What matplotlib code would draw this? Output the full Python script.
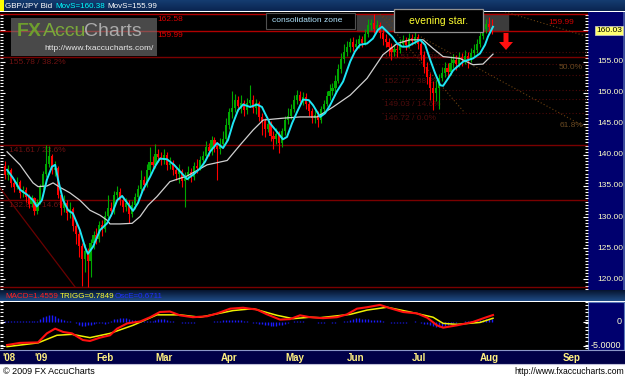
import numpy as np
import matplotlib
matplotlib.use("Agg")
import matplotlib.pyplot as plt
from matplotlib.patches import Rectangle, FancyArrow
from matplotlib.colors import LinearSegmentedColormap

plt.rcParams['font.family'] = ['Liberation Sans', 'DejaVu Sans']

# ---------------- data ----------------
first_open = 138.2
closes = [136.8,137.6,135.4,134.9,135.6,133.8,134.3,133.2,132.1,133.0,
          130.9,132.5,134.8,136.9,138.6,139.8,137.5,137.9,133.6,131.4,
          132.2,130.6,131.3,128.6,127.3,125.4,123.2,124.5,123.0,125.8,
          127.1,126.4,128.7,128.1,130.2,131.5,130.9,133.6,134.1,132.8,
          131.6,132.2,130.5,131.9,133.2,134.5,135.9,135.2,137.6,138.9,
          138.4,140.2,139.6,139.1,140.0,138.3,138.7,137.6,136.9,137.4,
          135.8,136.6,137.2,136.5,138.2,137.9,139.1,139.8,141.3,140.6,
          142.4,141.5,140.9,141.8,142.6,144.8,146.9,147.6,148.9,147.8,
          148.3,147.2,148.4,148.9,147.6,148.3,146.1,145.4,144.2,145.0,
          143.1,142.5,143.4,141.9,143.8,145.6,146.3,147.4,148.8,149.6,
          148.7,149.3,148.1,147.0,145.9,146.4,145.6,147.3,148.2,149.5,
          150.3,150.8,151.9,153.8,155.4,156.6,157.3,158.1,157.4,157.9,
          158.6,158.0,159.4,160.8,161.2,160.3,160.9,159.6,158.7,158.2,
          157.3,156.5,157.1,156.8,157.9,158.4,157.6,158.8,158.3,159.0,
          157.9,156.1,154.2,152.6,150.8,149.9,150.7,152.4,153.1,153.9,
          153.4,154.7,155.3,154.6,155.8,155.2,155.9,155.4,156.3,156.9,
          157.8,159.1,160.2,161.0,160.6,160.0]
highs = [139.0,138.3,137.9,136.1,136.4,135.9,135.0,134.8,133.7,133.6,
         133.3,132.9,135.3,137.4,141.6,141.5,140.2,139.0,138.2,134.0,
         133.6,132.8,132.4,131.6,129.2,127.9,125.9,125.6,125.0,126.4,
         127.7,128.2,129.4,129.6,130.9,133.6,132.4,134.2,135.0,134.6,
         133.3,133.1,132.8,132.6,133.9,135.1,137.5,136.6,138.6,141.2,
         139.9,141.7,141.0,140.4,140.9,140.5,139.6,139.2,138.1,138.5,
         137.8,137.2,138.2,137.9,138.9,139.3,139.8,140.6,142.3,141.9,
         143.1,142.9,142.1,142.7,143.9,145.9,147.6,150.2,149.8,149.4,
         149.6,148.8,149.1,151.3,149.7,149.0,148.7,146.8,146.0,145.8,
         145.4,143.9,144.3,143.8,144.4,146.2,147.6,148.1,149.7,150.5,
         150.3,150.1,149.9,148.6,147.5,147.2,147.0,147.9,148.9,150.3,
         151.4,151.6,152.8,154.6,156.3,157.9,158.3,158.8,158.9,158.6,
         159.3,159.1,160.2,161.9,161.9,162.58,161.7,161.4,160.2,159.4,
         158.8,158.0,157.8,157.9,158.7,159.2,158.9,159.6,159.4,159.8,
         159.5,158.4,156.7,154.9,153.2,151.9,152.1,153.0,154.2,155.0,
         154.8,155.9,156.2,156.1,156.6,156.4,156.8,156.5,157.2,157.8,
         158.6,159.9,161.3,161.9,162.2,161.8]
lows = [136.2,136.0,134.8,134.0,134.5,133.1,133.2,132.5,131.4,131.6,
        130.3,130.5,132.1,134.3,136.5,138.0,137.0,136.6,133.0,130.4,
        130.8,129.6,129.9,127.8,125.7,123.6,119.0,121.2,118.8,120.4,
        124.9,125.6,126.0,127.0,127.6,129.7,130.1,130.5,132.9,132.0,
        130.8,130.9,129.0,130.0,131.3,132.7,134.0,134.4,134.9,137.0,
        137.6,137.9,138.8,138.4,138.5,137.5,137.8,136.7,136.0,135.4,
        134.9,131.7,135.9,135.6,136.0,137.1,137.5,138.4,139.3,139.8,
        140.0,140.4,136.0,140.2,141.2,142.3,144.2,146.0,146.9,147.0,
        146.8,146.3,146.6,147.9,146.8,146.5,145.4,143.2,142.9,143.6,
        142.2,141.0,141.8,140.3,141.3,143.2,144.9,145.8,146.9,148.2,
        148.1,148.0,147.3,146.2,145.1,145.2,144.5,145.2,146.7,147.8,
        148.9,149.6,150.1,151.5,153.2,154.8,155.9,156.6,156.7,156.8,
        157.2,157.3,157.6,159.0,160.1,159.6,159.9,158.8,157.6,157.3,
        155.9,155.2,155.9,155.8,156.3,157.3,156.8,157.2,157.6,157.8,
        157.1,155.2,153.1,151.4,148.9,147.2,148.6,147.4,151.8,152.5,
        152.6,152.9,154.0,153.6,154.1,154.3,154.6,153.9,155.0,155.8,
        156.4,157.4,158.7,159.6,159.9,159.4]

cyan_x = [0.7,2.7,5.1,7.5,9.5,10.8,12.5,14.2,15.9,17.0,18.0,19.7,21.4,23.0,25.4,
          27.1,28.1,29.8,32.2,34.6,36.3,38.0,39.7,41.4,43.4,45.1,46.8,49.2,50.8,52.5,
          54.9,57.3,60.0,61.7,63.7,66.1,67.8,69.5,71.9,73.9,75.6,77.3,79.0,80.7,83.1,
          85.4,87.1,88.1,89.8,92.2,94.2,95.6,97.3,99.0,101.0,103.0,104.4,106.8,108.5,110.2,
          112.5,114.6,117.0,118.6,120.3,122.7,124.7,126.4,127.8,129.5,131.2,132.9,134.6,136.3,138.3,
          140.7,142.4,144.1,145.8,147.5,148.5,150.2,151.9,155.3,158.6,161.0,162.7,163.7,165.4]
cyan_v = [137.6,136.3,134.4,133.6,132.7,131.7,132.7,136.0,138.1,138.4,136.0,132.7,131.1,130.6,127.9,
          125.2,124.1,125.2,127.9,129.0,130.6,132.7,133.4,132.3,131.0,132.3,134.4,136.5,138.1,139.4,
          139.3,138.4,137.0,136.1,136.8,137.8,138.9,140.5,141.9,141.1,142.4,145.1,147.2,148.1,147.7,
          148.1,147.7,146.7,145.1,143.7,142.5,142.9,145.1,146.9,148.9,148.8,148.0,146.1,146.7,148.0,
          150.2,151.8,155.0,156.6,157.7,157.9,158.7,160.1,160.6,159.8,159.0,157.9,157.4,157.4,157.9,
          158.5,157.7,155.3,153.1,151.2,151.1,152.3,153.6,155.0,155.5,156.3,157.7,159.0,160.6]
white_x = [0.7,5.1,7.5,9.5,11.2,14.2,16.3,18.6,22.0,25.4,28.8,32.2,34.6,35.6,39.0,
           43.1,45.8,48.5,51.5,55.9,61.7,68.5,75.3,79.7,84.1,87.5,94.2,100.0,105.8,111.2,
           117.0,122.7,128.1,132.9,137.3,141.7,145.1,148.5,154.2,158.6,162.0,165.4]
white_v = [140.5,138.4,136.8,135.5,134.9,135.0,135.5,134.8,133.9,132.7,131.1,130.3,129.5,128.9,128.9,
           129.0,130.1,131.9,133.3,135.7,136.6,138.4,139.1,141.6,144.0,145.6,145.9,146.1,146.1,147.7,
           149.6,152.3,156.1,157.9,158.5,158.5,157.1,155.8,155.5,154.5,154.6,156.2]

macd_x = [0.7,5.1,11.2,14.2,17.0,19.7,22.7,26.4,28.8,32.2,35.6,38.0,41.4,45.8,49.2,
          52.5,55.9,59.3,63.7,68.5,71.9,76.3,80.7,85.4,88.8,93.2,96.6,100.0,103.4,107.8,
          112.5,115.9,119.3,122.7,127.1,130.5,134.9,139.7,143.1,146.4,148.5,153.2,158.6,162.7,165.4]
macd_v = [-4.85,-4.4,-4.3,-2.4,-1.4,-2.1,-2.4,-3.8,-4.0,-3.3,-2.8,-1.4,-0.3,0.1,1.0,
          2.1,2.2,1.4,1.0,1.2,1.8,2.8,3.0,2.6,1.6,0.5,0.6,1.4,1.0,0.8,
          1.0,1.6,2.8,3.1,3.6,2.9,2.1,1.8,0.9,-0.7,-1.2,-0.7,0.0,0.9,1.46]
trig_x = [0.7,11.2,17.6,22.7,28.8,35.6,43.4,51.5,59.3,66.1,77.3,84.1,92.2,97.6,103.4,
          106.8,117.0,122.7,129.5,137.3,145.1,148.5,153.2,161.0,165.4]
trig_v = [-5.2,-4.4,-2.8,-2.6,-3.3,-2.4,-0.7,1.5,1.5,1.0,2.4,2.8,1.4,0.7,1.0,
          0.9,1.6,2.5,3.1,2.1,1.0,-0.3,-0.5,-0.1,0.78]
osc = [0.3,0.3,0.3,0.2,0.3,0.2,0.2,0.1,0.1,0.1,
       0.1,0.2,0.6,1.0,1.3,1.4,1.4,1.2,0.9,0.6,
       0.4,0.3,0.2,0.0,-0.3,-0.6,-0.8,-0.8,-0.7,-0.6,
       -0.4,-0.3,-0.3,-0.3,-0.4,-0.2,0.1,0.6,0.7,0.8,
       0.8,0.8,0.6,0.5,0.4,0.3,0.3,0.2,0.1,0.1,
       0.3,0.5,0.6,0.6,0.6,0.5,0.3,0.1,-0.1,-0.1,
       -0.2,-0.2,-0.2,-0.2,-0.2,-0.1,-0.1,-0.1,-0.1,0.0,
       0.0,0.1,0.2,0.3,0.4,0.5,0.5,0.5,0.4,0.4,
       0.4,0.3,0.1,-0.1,-0.2,-0.3,-0.4,-0.5,-0.6,-0.7,
       -0.8,-0.8,-0.8,-0.7,-0.6,-0.4,-0.2,-0.1,0.1,0.2,
       0.2,0.1,0.0,-0.1,-0.1,-0.1,-0.2,-0.2,-0.2,-0.1,
       -0.1,-0.2,-0.2,-0.1,0.0,0.1,0.3,0.5,0.7,0.8,
       0.8,0.7,0.6,0.6,0.5,0.5,0.5,0.4,0.2,0.0,
       -0.1,-0.2,-0.3,-0.3,-0.3,-0.3,-0.2,-0.1,0.0,0.1,
       0.0,-0.2,-0.4,-0.5,-0.7,-0.9,-1.1,-1.1,-1.0,-0.8,
       -0.6,-0.4,-0.3,-0.2,-0.1,0.0,0.1,0.1,0.2,0.2,
       0.3,0.4,0.5,0.6,0.7,0.7]

key_levels = [162.58, 159.99]
fib1_levels = [155.78, 141.61, 132.81, 118.8]
fib1_labels = ["155.78 / 38.2%", "141.61 / 23.6%", "132.81 / 14.6%"]
fib2_levels = [146.72, 149.03, 150.46, 152.77, 154.65, 156.51]
fib2_labels = ["146.72 / 0.0%", "149.03 / 14.6%", "152.77 / 38.2%", "156.51 / 61.8%"]
fib2_label_levels = [146.72, 149.03, 152.77, 156.51]
price_ticks = [120, 125, 130, 135, 140, 145, 150, 155, 160]
macd_ticks = [0, -5]
macd_tick_labels = ["0", "-5.0000"]
month_labels = ["'08", "'09", "Feb", "Mar", "Apr", "May", "Jun", "Jul", "Aug", "Sep"]
month_bars = [-1, 10, 31, 51, 73, 95, 116, 138, 161, 189]

# ---------------- layout helpers (pixels) ----------------
W, H = 625, 379
fig = plt.figure(figsize=(W / 100, H / 100), dpi=100)
fig.patch.set_facecolor('white')

def rect(x0, y0, x1, y1):
    return [x0 / W, 1 - y1 / H, (x1 - x0) / W, (y1 - y0) / H]

XLIM = (-1.69, 197.6)
PY = (118.44, 162.97)
MY = (-5.9, 4.31)

# background layer in pixel coordinates
bg = fig.add_axes([0, 0, 1, 1], zorder=0)
bg.axis('off')
grad = np.linspace(0, 1, 50).reshape(-1, 1)
hdr_cm = LinearSegmentedColormap.from_list('h', ['#163f74', '#0a2450'])
mh_cm = LinearSegmentedColormap.from_list('m', ['#06142e', '#1f4c86'])
bg.imshow(grad, extent=[0, 625, 11.5, 0], aspect='auto', cmap=hdr_cm, zorder=1)
bg.imshow(grad, extent=[0, 625, 301.5, 290.5], aspect='auto', cmap=mh_cm, zorder=1)
bg.add_patch(Rectangle((0, 11.5), 625, 279, fc='black', zorder=0))
bg.add_patch(Rectangle((588, 11.5), 37, 278.5, fc='#00006e', ec='none', zorder=2))
bg.add_patch(Rectangle((623, 11.5), 2, 278.5, fc='#3a4a9a', ec='none', zorder=2))
bg.add_patch(Rectangle((0, 301.5), 625, 49, fc='black', zorder=0))
bg.add_patch(Rectangle((588, 302), 36, 48, fc='#00006e', ec='#5a78b8', lw=0.8, zorder=2))
bg.add_patch(Rectangle((0, 350), 625, 14, fc='#000048', ec='none', zorder=2))
bg.plot([0, 625], [350.3, 350.3], color='#8a96c8', lw=0.8, zorder=3)
bg.plot([0, 625], [363.6, 363.6], color='#c0c0d8', lw=0.8, zorder=3)
bg.add_patch(Rectangle((0, 0), 4, 11, fc='#ffff00', zorder=3))
bg.set_xlim(0, W)
bg.set_ylim(H, 0)

# ---------------- main price panel ----------------
ax = fig.add_axes(rect(0, 12, 588, 289), zorder=2)
ax.set_facecolor('none')
ax.set_xlim(*XLIM)
ax.set_ylim(*PY)
for s in ax.spines.values():
    s.set_visible(False)
ax.set_xticks([])
ax.set_yticks(price_ticks)
ax.set_yticks(np.arange(118.5, 163.0, 0.5), minor=True)
ax.tick_params(axis='y', which='both', left=True, right=True, labelleft=False,
               labelright=False, colors='white', direction='in')
ax.tick_params(axis='y', which='minor', length=2.2, width=0.8)
ax.tick_params(axis='y', which='major', length=3.5, width=0.8)

# consolidation zone shading
ax.axhspan(159.99, 162.58, xmin=(119.3 - XLIM[0]) / (XLIM[1] - XLIM[0]),
           xmax=(170.5 - XLIM[0]) / (XLIM[1] - XLIM[0]), color='#3c3c3c', zorder=1)

# horizontal levels
for lv in key_levels:
    ax.axhline(lv, color='#b00000', lw=1.0, zorder=2)
for lv in fib1_levels:
    ax.axhline(lv, color='#7a0000', lw=1.0, zorder=2)
for lv in fib2_levels:
    ax.plot([127.8, XLIM[1]], [lv, lv], color='#4c0808', lw=0.8, ls=(0, (1, 2)), zorder=2)

# trend / fan lines (dotted)
ax.plot([-1.7, 23.7], [134.7, 118.8], color='#6a0000', lw=0.9, zorder=2)
ax.plot([127.1, 196.9], [162.58, 144.4], color='#6a4010', lw=0.8, ls=(0, (1, 2)), zorder=2)
ax.plot([127.1, 155.9], [162.58, 146.72], color='#6a4010', lw=0.8, ls=(0, (1, 2)), zorder=2)
ax.plot([169.5, 197.6], [163.0, 159.0], color='#6a4010', lw=0.8, ls=(0, (1, 2)), zorder=2)

# candles
n = len(closes)
idx = np.arange(n)
c = np.array(closes)
o = np.array([first_open] + closes[:-1])
hi = np.array(highs)
lo = np.array(lows)
up = c >= o
cols = np.where(up, '#00a800', '#ff0000')
ax.vlines(idx, lo, hi, colors=cols, lw=0.8, zorder=4)
ax.bar(idx, np.maximum(np.abs(c - o), 0.15), bottom=np.minimum(c, o), width=0.72,
       color=cols, lw=0, zorder=5)

# moving averages
ax.plot(white_x, white_v, color='#d0d0d0', lw=0.9, zorder=6)
ax.plot(cyan_x, cyan_v, color='#1ee6f5', lw=1.4, zorder=7)

# right axis labels
ytr = ax.get_yaxis_transform()
for p in price_ticks:
    ax.text(1.0155, p, f"{p:.2f}", transform=ytr, color='#ffffc8', fontsize=6,
            va='center', ha='left', zorder=8)
ax.text(1.0140, 160.03, "160.03", transform=ytr, color='black', fontsize=6,
        va='center', ha='left', zorder=9,
        bbox=dict(boxstyle='square,pad=0.15', fc='#ffff70', ec='#c0c0c0', lw=0.6))

# fib labels
for lv, lab in zip(fib1_levels[:3], fib1_labels):
    ax.text(1.5, lv - 0.35, lab, color='#6e1212', fontsize=6, va='top', ha='left', zorder=3)
for lv, lab in zip(fib2_label_levels, fib2_labels):
    ax.text(128.5, lv - 0.35, lab, color='#4e0c0c', fontsize=6, va='top', ha='left', zorder=3)
ax.text(51.5, 162.58 - 0.2, "162.58", color='#e00000', fontsize=6, va='top', ha='left', zorder=3)
ax.text(51.5, 159.99 - 0.2, "159.99", color='#e00000', fontsize=6, va='top', ha='left', zorder=3)
ax.text(184.0, 161.3, "159.99", color='#d00000', fontsize=6, va='center', ha='left', zorder=3)
ax.text(195.9, 154.1, "50.0%", color='#6a4a22', fontsize=6, va='center', ha='right', zorder=3)
ax.text(195.9, 144.7, "61.8%", color='#6a4a22', fontsize=6, va='center', ha='right', zorder=3)

# ---------------- MACD panel ----------------
mx = fig.add_axes(rect(0, 301.5, 588, 350), zorder=2)
mx.set_facecolor('none')
mx.set_xlim(*XLIM)
mx.set_ylim(*MY)
for s in mx.spines.values():
    s.set_visible(False)
mx.set_xticks([])
mx.set_yticks(macd_ticks)
mx.set_yticks(np.arange(-5.5, 4.3, 0.75), minor=True)
mx.tick_params(axis='y', which='both', left=True, right=True, labelleft=False,
               labelright=False, colors='white', direction='in')
mx.tick_params(axis='y', which='minor', length=2.0, width=0.8)
mx.tick_params(axis='y', which='major', length=3.5, width=0.8)
mx.vlines(idx, 0, np.array(osc), colors='#1a1aff', lw=1.0, zorder=2)
mx.plot(trig_x, trig_v, color='#f0f000', lw=1.1, zorder=3)
mx.plot(macd_x, macd_v, color='#ff1010', lw=1.5, zorder=4)
mtr = mx.get_yaxis_transform()
for v, lab in zip(macd_ticks, macd_tick_labels):
    mx.text(1.0570, v, lab, transform=mtr, color='#ffffd0', fontsize=6.5,
            va='center', ha='right', zorder=8)

# ---------------- date strip ----------------
dx = fig.add_axes(rect(0, 350.5, 588, 363.5), zorder=3)
dx.set_facecolor('none')
dx.set_xlim(*XLIM)
dx.set_ylim(0, 1)
dx.axis('off')
for b, lab in zip(month_bars, month_labels):
    dx.text(b, 0.45, lab, color='#fff080', fontsize=7, fontweight='bold',
            va='center', ha='left')

# ---------------- overlay: texts & annotation boxes (pixels) ----------------
ov = fig.add_axes([0, 0, 1, 1], zorder=10)
ov.set_facecolor('none')
ov.axis('off')
ov.set_xlim(0, W)
ov.set_ylim(H, 0)

# header texts
ov.text(5, 6, "GBP/JPY Bid", color='white', fontsize=5.8, va='center', ha='left')
ov.text(55.5, 6, "MovS=160.38", color='#00ffff', fontsize=5.8, va='center', ha='left')
ov.text(107.5, 6, "MovS=155.99", color='white', fontsize=5.8, va='center', ha='left')
ov.text(5, 297, "MACD=1.4559", color='#ff2020', fontsize=5.8, va='center', ha='left')
ov.text(59.5, 297, "TRIGG=0.7849", color='#ffff30', fontsize=5.8, va='center', ha='left')
ov.text(114.5, 297, "OscE=0.6711", color='#2030ff', fontsize=5.8, va='center', ha='left')

# watermark
ov.add_patch(Rectangle((11, 17.5), 146, 38, fc='#7a7a7a', ec='none', alpha=0.6))
ov.text(17, 32, "FX", color='#6e9e2e', fontsize=14, fontweight='bold', va='center', ha='left')
ov.text(43, 32, "Accu", color='#7aa83a', fontsize=14, va='center', ha='left')
ov.text(84, 32, "Charts", color='#ababab', fontsize=14, va='center', ha='left')
ov.text(44, 48.5, "http://www.fxaccucharts.com/", color='#e8e8e8', fontsize=6, va='center', ha='left')

# consolidation zone label
ov.add_patch(Rectangle((266, 12.5), 89, 16, fc='black', ec='#505050', lw=0.8))
ov.text(272, 20, "consolidation zone", color='#b0e4ff', fontsize=6, va='center', ha='left')

# evening star label
ov.add_patch(Rectangle((394, 9.3), 89, 22.4, fc='black', ec='#909090', lw=0.9))
ov.text(438.5, 20.5, "evening star.", color='#ffff30', fontsize=7.5, va='center', ha='center')

# red arrow
ov.add_patch(FancyArrow(506, 33, 0, 17, width=5, head_width=14, head_length=8,
                        length_includes_head=True, color='#ff1010', lw=0))

# footer
ov.text(3, 372, "\u00a9 2009 FX AccuCharts", color='black', fontsize=6.5, va='center', ha='left')
ov.text(624, 372, "http://www.fxaccucharts.com", color='black', fontsize=6.2, va='center', ha='right')

fig.savefig("out.png", dpi=100, facecolor='white')
